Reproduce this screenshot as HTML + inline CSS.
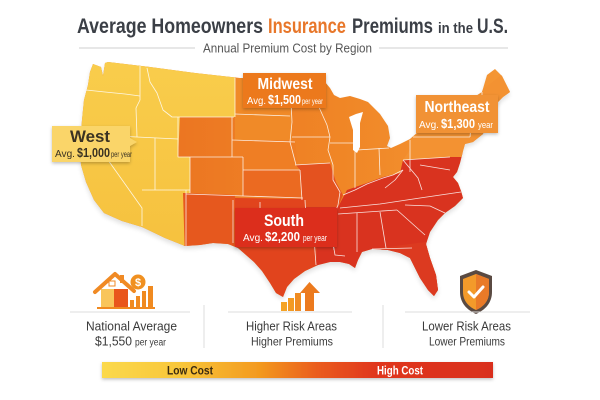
<!DOCTYPE html>
<html><head><meta charset="utf-8"><style>
html,body{margin:0;padding:0;background:#fff;}
svg{display:block;font-family:"Liberation Sans",sans-serif;}
</style></head><body>
<svg width="600" height="400" viewBox="0 0 600 400" xmlns="http://www.w3.org/2000/svg">
<defs>
  <clipPath id="us"><path id="usp" d="M93,64 L101,67 L103,76 L105,63 L108,62 L150,67 L195,73 L240,78 L290,81 L325,82 L330,88 L334,95 L340,98 L350,96 L360,99 L368,102 L372,106 L380,114 L388,126 L390,138 L387,146 L391,148 L400,144 L410,139 L418,132 L432,126 L450,116 L470,100 L482,92 L487,75 L495,69 L502,76 L510,92 L503,97 L493,107 L487,120 L483,134 L473,142 L465,144 L463,151 L460,163 L457,172 L453,177 L458,183 L461,191 L463,198 L455,206 L445,213 L438,220 L430,232 L426,244 L430,258 L436,275 L438,290 L434,296 L428,290 L420,278 L414,266 L410,258 L400,253 L388,250 L372,249 L362,252 L358,260 L355,268 L349,264 L340,262 L330,262 L318,265 L305,271 L294,279 L287,287 L283,297 L276,293 L270,283 L262,271 L254,262 L246,255 L238,248 L228,244 L213,243 L200,245 L185,246 L165,238 L142,227 L122,221 L104,213 L94,200 L86,182 L81,165 L80,145 L82,120 L84,100 L88,85 L90,72 Z"/></clipPath>
  <linearGradient id="mw" x1="180" y1="0" x2="500" y2="0" gradientUnits="userSpaceOnUse">
    <stop offset="0" stop-color="#ec7622"/><stop offset="0.5" stop-color="#f08626"/><stop offset="1" stop-color="#f49634"/>
  </linearGradient>
  <linearGradient id="wg" x1="0" y1="60" x2="0" y2="250" gradientUnits="userSpaceOnUse">
    <stop offset="0" stop-color="#f9cd4c"/><stop offset="1" stop-color="#f6c13e"/>
  </linearGradient>
  <linearGradient id="bar" x1="0" y1="0" x2="1" y2="0">
    <stop offset="0" stop-color="#fbd94c"/><stop offset="0.2" stop-color="#f8c63a"/><stop offset="0.4" stop-color="#f39a1f"/><stop offset="0.55" stop-color="#ea5c1c"/><stop offset="0.7" stop-color="#e0361c"/><stop offset="1" stop-color="#d92f1f"/>
  </linearGradient>
  <filter id="blur" x="-10%" y="-10%" width="120%" height="130%"><feGaussianBlur stdDeviation="2.5"/></filter>
  <filter id="sh" x="-20%" y="-20%" width="140%" height="160%"><feDropShadow dx="0" dy="1.5" stdDeviation="1.5" flood-color="#000" flood-opacity="0.25"/></filter>
</defs>
<rect width="600" height="400" fill="#fff"/>

<!-- Title -->
<text x="77" y="33" font-size="21" font-weight="bold" fill="#3b3f46" textLength="186" lengthAdjust="spacingAndGlyphs">Average Homeowners</text>
<text x="268" y="33" font-size="21" font-weight="bold" fill="#e8772a" textLength="78" lengthAdjust="spacingAndGlyphs">Insurance</text>
<text x="352" y="33" font-size="21" font-weight="bold" fill="#3b3f46" textLength="81" lengthAdjust="spacingAndGlyphs">Premiums</text>
<text x="438" y="33" font-size="15" font-weight="bold" fill="#3b3f46" textLength="35" lengthAdjust="spacingAndGlyphs">in the</text>
<text x="477" y="33" font-size="21" font-weight="bold" fill="#3b3f46" textLength="31" lengthAdjust="spacingAndGlyphs">U.S.</text>
<line x1="79" y1="48" x2="195" y2="48" stroke="#cfcfcf" stroke-width="1"/>
<line x1="379" y1="48" x2="508" y2="48" stroke="#cfcfcf" stroke-width="1"/>
<text x="203" y="52.5" font-size="13" fill="#555" textLength="169" lengthAdjust="spacingAndGlyphs">Annual Premium Cost by Region</text>

<!-- Map shadow -->
<use href="#usp" transform="translate(0,3)" fill="#000" opacity="0.12" filter="url(#blur)"/>

<!-- Map regions -->
<g clip-path="url(#us)">
  <rect x="0" y="0" width="600" height="400" fill="url(#mw)"/>
  <!-- Nebraska/Dakotas slightly lighter -->
  <polygon points="235,78 292,78 292,142 235,142" fill="#f08a28"/>
  <polygon points="232,140 295,140 298,171 243,171 243,157 232,157" fill="#ef7e24"/>
  <!-- Kansas -->
  <polygon points="243,170 300,170 302,199 243,196" fill="#eb6a21"/>
  <!-- Missouri -->
  <polygon points="296,165 330,163 336,182 343,195 338,207 304,207 302,199 300,170" fill="#e4521f"/>
  <!-- NM -->
  <polygon points="183,193 235,195 235,260 183,260" fill="#e6581e"/>
  <!-- OK / TX -->
  <polygon points="235,198 304,199 306,210 310,238 316,240 318,320 235,320" fill="#e1441d"/>
  <!-- East south -->
  <polygon points="304,207 338,207 347,190 367,183 383,177 400,173 403,160 450,157 470,150 520,150 520,330 318,330 316,240 310,238 306,210" fill="#d9331f"/>
  <polygon points="380,248 440,240 450,310 380,310" fill="#dc3a20"/>
  <!-- Northeast -->
  <polygon points="410,139 418,132 470,100 520,60 520,157 450,157 403,160 410,150" fill="#f39232"/>
  <!-- West -->
  <polygon points="0,0 235,0 235,117 180,117 178,157 190,157 190,193 183,193 185,260 0,260" fill="url(#wg)"/>
</g>
<!-- Lake Michigan -->
<path d="M349,117 L356,114 L363,112 L360,123 L360,147 L357,153 L353,150 L353,130 Z" fill="#fff"/>

<!-- State lines -->
<g stroke="#fff" stroke-width="0.8" fill="none" opacity="0.85" stroke-linejoin="round">
  <path d="M86,90 L105,92 L125,94 L140,96"/>
  <path d="M140,66 L140,100 L136,108 L137,137"/>
  <path d="M81,134 L137,137 L178,139"/>
  <path d="M108,136 L108,160 L142,208 L142,226"/>
  <path d="M155,138 L155,190"/>
  <path d="M142,190 L190,190"/>
  <path d="M186,190 L186,246"/>
  <path d="M147,68 L150,82 L157,93 L163,110 L172,117 L234,117"/>
  <path d="M178,117 L178,157 L243,157"/>
  <path d="M190,157 L190,193"/>
  <path d="M186,194 L303,198"/>
  <path d="M235,78 L235,117"/>
  <path d="M232,117 L232,157"/>
  <path d="M243,157 L243,196"/>
  <path d="M235,114 L290,116"/>
  <path d="M232,140 L295,142"/>
  <path d="M243,170 L300,170"/>
  <path d="M290,82 L292,122 L290,142 L296,165"/>
  <path d="M292,137 L330,137"/>
  <path d="M295,165 L330,163"/>
  <path d="M325,88 L318,105 L327,125 L330,137 L328,150 L333,165 L333,180 L340,192 L338,205 L334,215 L332,237 L334,250"/>
  <path d="M300,170 L302,200"/>
  <path d="M305,200 L307,238"/>
  <path d="M314,238 L316,265"/>
  <path d="M260,202 L260,228 L290,232 L314,238"/>
  <path d="M233,200 L233,243"/>
  <path d="M330,143 L355,143"/>
  <path d="M355,143 L355,188"/>
  <path d="M379,148 L380,175"/>
  <path d="M343,195 L355,190 L367,184 L383,178 L393,175 L403,170"/>
  <path d="M357,150 L389,148"/>
  <path d="M410,140 L410,172"/>
  <path d="M403,160 L450,157"/>
  <path d="M413,137 L470,137"/>
  <path d="M340,208 L380,204 L420,198 L461,192"/>
  <path d="M338,214 L397,210"/>
  <path d="M405,205 L430,206 L445,213"/>
  <path d="M357,213 L357,252"/>
  <path d="M380,212 L386,248"/>
  <path d="M372,249 L412,248"/>
  <path d="M397,210 L425,235"/>
  <path d="M307,238 L332,238"/>
  <path d="M332,237 L335,255 L345,256"/>
  <path d="M403,170 L395,180 L385,188"/>
  <path d="M403,160 L418,178 L422,190"/>
  <path d="M420,165 L450,170"/>
  <path d="M470,137 L472,115"/>
  <path d="M472,125 L487,122"/>
  <path d="M482,92 L482,120"/>
</g>

<!-- West label -->
<g filter="url(#sh)">
  <path d="M52,126 L130,126 L130,138 L137,142 L130,146 L130,162 L52,162 Z" fill="#fad569"/>
</g>
<text x="90" y="142" font-size="17" font-weight="bold" fill="#3a3222" text-anchor="middle" textLength="40" lengthAdjust="spacingAndGlyphs">West</text>
<text x="55" y="157" font-size="10" fill="#3a3222" textLength="20" lengthAdjust="spacingAndGlyphs">Avg.</text>
<text x="77" y="157" font-size="13" font-weight="bold" fill="#3a3222" textLength="33" lengthAdjust="spacingAndGlyphs">$1,000</text>
<text x="111" y="157" font-size="8" fill="#3a3222" textLength="21" lengthAdjust="spacingAndGlyphs">per year</text>

<!-- Midwest label -->
<rect x="243" y="73" width="83" height="35" fill="#ec791f" filter="url(#sh)"/>
<text x="285" y="89" font-size="16" font-weight="bold" fill="#fff" text-anchor="middle" textLength="55" lengthAdjust="spacingAndGlyphs">Midwest</text>
<text x="247" y="104" font-size="10" fill="#fff" textLength="19" lengthAdjust="spacingAndGlyphs">Avg.</text>
<text x="268" y="104" font-size="13" font-weight="bold" fill="#fff" textLength="33" lengthAdjust="spacingAndGlyphs">$1,500</text>
<text x="302" y="104" font-size="8" fill="#fff" textLength="21" lengthAdjust="spacingAndGlyphs">per year</text>

<!-- Northeast label -->
<rect x="416" y="95" width="82" height="38" fill="#f19236" filter="url(#sh)"/>
<text x="457" y="112" font-size="16" font-weight="bold" fill="#fff" text-anchor="middle" textLength="65" lengthAdjust="spacingAndGlyphs">Northeast</text>
<text x="419" y="128" font-size="10" fill="#fff" textLength="20" lengthAdjust="spacingAndGlyphs">Avg.</text>
<text x="441" y="128" font-size="13" font-weight="bold" fill="#fff" textLength="34" lengthAdjust="spacingAndGlyphs">$1,300</text>
<text x="478" y="128" font-size="9" fill="#fff" textLength="15" lengthAdjust="spacingAndGlyphs">year</text>

<!-- South label -->
<rect x="235" y="208" width="102" height="39" fill="#dc2e1c" filter="url(#sh)"/>
<text x="284" y="226" font-size="17" font-weight="bold" fill="#fff" text-anchor="middle" textLength="40" lengthAdjust="spacingAndGlyphs">South</text>
<text x="243" y="241" font-size="10" fill="#fff" textLength="20" lengthAdjust="spacingAndGlyphs">Avg.</text>
<text x="265" y="241" font-size="13" font-weight="bold" fill="#fff" textLength="35" lengthAdjust="spacingAndGlyphs">$2,200</text>
<text x="303" y="241" font-size="9" fill="#fff" textLength="24" lengthAdjust="spacingAndGlyphs">per year</text>

<!-- House icon -->
<g>
  <rect x="101" y="289" width="13" height="19" fill="#f9c55a"/>
  <rect x="114" y="289" width="14" height="19" fill="#e9561c"/>
  <rect x="109" y="281" width="6" height="5" fill="#fff" stroke="#f08a24" stroke-width="1"/>
  <polyline points="95,292 115,274 134,291" fill="none" stroke="#f08a24" stroke-width="4" stroke-linejoin="round" stroke-linecap="round"/>
  <rect x="120" y="275" width="4" height="8" fill="#f08a24"/>
  <rect x="130" y="300" width="4" height="8" fill="#f08a20"/>
  <rect x="136" y="296" width="4" height="12" fill="#f08a20"/>
  <rect x="142" y="291" width="4" height="17" fill="#f08a20"/>
  <rect x="148" y="286" width="5" height="22" fill="#f08a20"/>
  <rect x="97" y="307" width="58" height="2" fill="#f08a20"/>
  <circle cx="138" cy="282" r="7.5" fill="#f09020"/>
  <text x="138" y="286" font-size="11" font-weight="bold" fill="#fff" text-anchor="middle">$</text>
</g>

<!-- Higher risk icon -->
<g>
  <rect x="281" y="302" width="6" height="9" fill="#f5a324"/>
  <rect x="288" y="298" width="6" height="13" fill="#f39a22"/>
  <rect x="295" y="293" width="6" height="18" fill="#f08c22"/>
  <rect x="305" y="291" width="9" height="20" fill="#ec7a1e"/>
  <polygon points="300,293 309.5,282 320,293" fill="#ec7a1e"/>
</g>

<!-- Shield icon -->
<g>
  <path d="M476,270 L492,276 L492,292 C492,303 485,310 476,314 C467,310 460,303 460,292 L460,276 Z" fill="#5a4a42"/>
  <path d="M476,274 L489,279 L489,292 C489,301 483,307 476,310 C469,307 463,301 463,292 L463,279 Z" fill="#f39a2a"/>
  <path d="M476,274 L489,279 L489,292 C489,301 483,307 476,310 Z" fill="#e97a28"/>
  <polyline points="469,292 474,297 483,287" fill="none" stroke="#fff" stroke-width="3" stroke-linecap="round" stroke-linejoin="round"/>
</g>

<!-- Separators -->
<line x1="70" y1="312" x2="190" y2="312" stroke="#dcdcdc" stroke-width="1"/>
<line x1="228" y1="312" x2="352" y2="312" stroke="#dcdcdc" stroke-width="1"/>
<line x1="405" y1="312" x2="530" y2="312" stroke="#dcdcdc" stroke-width="1"/>
<line x1="204" y1="305" x2="204" y2="348" stroke="#dcdcdc" stroke-width="1"/>
<line x1="383" y1="305" x2="383" y2="348" stroke="#dcdcdc" stroke-width="1"/>

<!-- Bottom texts -->
<text x="86" y="330.5" font-size="13" fill="#3a3a3a" textLength="91" lengthAdjust="spacingAndGlyphs">National Average</text>
<text x="95" y="345.5" font-size="13" fill="#3a3a3a" textLength="37" lengthAdjust="spacingAndGlyphs">$1,550</text>
<text x="135" y="345.5" font-size="10" fill="#3a3a3a" textLength="31" lengthAdjust="spacingAndGlyphs">per year</text>
<text x="246" y="330.5" font-size="13" fill="#3a3a3a" textLength="91" lengthAdjust="spacingAndGlyphs">Higher Risk Areas</text>
<text x="251" y="345.5" font-size="12" fill="#3a3a3a" textLength="82" lengthAdjust="spacingAndGlyphs">Higher Premiums</text>
<text x="422" y="330.5" font-size="13" fill="#3a3a3a" textLength="89" lengthAdjust="spacingAndGlyphs">Lower Risk Areas</text>
<text x="429" y="345.5" font-size="12" fill="#3a3a3a" textLength="76" lengthAdjust="spacingAndGlyphs">Lower Premiums</text>

<!-- Cost bar -->
<rect x="102" y="362" width="391" height="16" fill="url(#bar)" filter="url(#sh)"/>
<text x="167" y="374.5" font-size="12" font-weight="bold" fill="#3a2a10" textLength="46" lengthAdjust="spacingAndGlyphs">Low Cost</text>
<text x="377" y="374.5" font-size="12" font-weight="bold" fill="#fff" textLength="46" lengthAdjust="spacingAndGlyphs">High Cost</text>
</svg>
</body></html>
